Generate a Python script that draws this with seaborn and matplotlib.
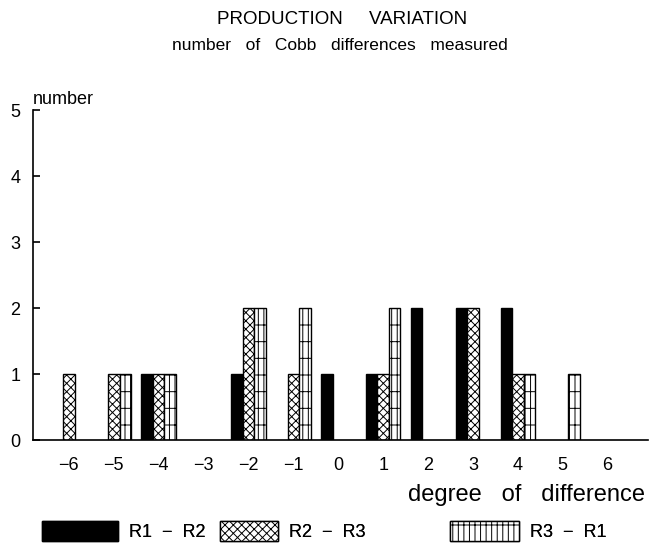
import pandas as pd
import seaborn as sns
import matplotlib.pyplot as plt
from matplotlib.patches import Patch

degrees = [-6, -5, -4, -3, -2, -1, 0, 1, 2, 3, 4, 5, 6]
r1_r2 = [0, 0, 1, 0, 1, 0, 1, 1, 2, 2, 2, 0, 0]
r2_r3 = [1, 1, 1, 0, 2, 1, 0, 1, 0, 2, 1, 0, 0]
r3_r1 = [0, 1, 1, 0, 2, 2, 0, 2, 0, 0, 1, 1, 0]
series = ['R1 - R2', 'R2 - R3', 'R3 - R1']

labels = [str(d).replace('-', '\u2212') for d in degrees]
df = pd.DataFrame({
    'degree': labels * 3,
    'count': r1_r2 + r2_r3 + r3_r1,
    'series': [s for s in series for _ in degrees],
})

sns.set_style('white')
plt.rcParams['font.family'] = ['Liberation Sans', 'DejaVu Sans']
plt.rcParams['text.color'] = 'black'
plt.rcParams['xtick.color'] = 'black'
plt.rcParams['ytick.color'] = 'black'
plt.rcParams['hatch.linewidth'] = 0.7

fig = plt.figure(figsize=(6.51, 5.49), dpi=100)
ax = fig.add_axes([0.0507, 0.1985, 0.9447, 0.601])

sns.barplot(data=df, x='degree', y='count', hue='series', order=labels,
            hue_order=series, width=0.77, ax=ax, legend=False,
            palette=['black', 'white', 'white'], edgecolor='black',
            linewidth=1.0, saturation=1)

hatches = [None, 'xxxx', '|+|']
for cont, h in zip(ax.containers, hatches):
    for bar in cont:
        if h:
            bar.set_hatch(h)
        if bar.get_height() == 0:
            bar.set_visible(False)

ax.set_xlim(-0.8, 12.9)
ax.set_ylim(0, 5)
ax.set_yticks(range(6))
ax.set_xlabel('')
ax.set_ylabel('')
sns.despine(ax=ax)
for s in ['left', 'bottom']:
    ax.spines[s].set_linewidth(1.2)
    ax.spines[s].set_color('black')
ax.tick_params(axis='y', direction='in', length=5, width=1.2, pad=9,
               labelsize=13, left=True)
ax.tick_params(axis='x', length=0, pad=12, labelsize=13)

ax.text(0.0, 1.005, 'number', transform=ax.transAxes, ha='left', va='bottom',
        fontsize=13)
fig.text(645 / 651, 1 - 495 / 549, 'degree   of   difference', ha='right',
         va='center', fontsize=17)

fig.text(342 / 651, 1 - 20 / 549, 'PRODUCTION     VARIATION', ha='center',
         va='center', fontsize=13.5)
fig.text(340 / 651, 1 - 46 / 549, 'number   of   Cobb   differences   measured',
         ha='center', va='center', fontsize=12.5)

handles = [Patch(facecolor='black', edgecolor='black'),
           Patch(facecolor='white', edgecolor='black', hatch='xxxx'),
           Patch(facecolor='white', edgecolor='black', hatch='|+|')]
names = ['R1  \u2212  R2', 'R2  \u2212  R3', 'R3  \u2212  R1']
starts = [26, 204, 434]
lengths = [4.2, 3.2, 3.8]
for hnd, name, x0, hl in zip(handles, names, starts, lengths):
    leg = fig.legend([hnd], [name], loc='center left',
                     bbox_to_anchor=(x0 / 651, 1 - 531 / 549),
                     frameon=False, handlelength=hl, handleheight=1.3,
                     handletextpad=0.6, fontsize=13)
    fig.add_artist(leg)

fig.savefig('out.png', dpi=100)
